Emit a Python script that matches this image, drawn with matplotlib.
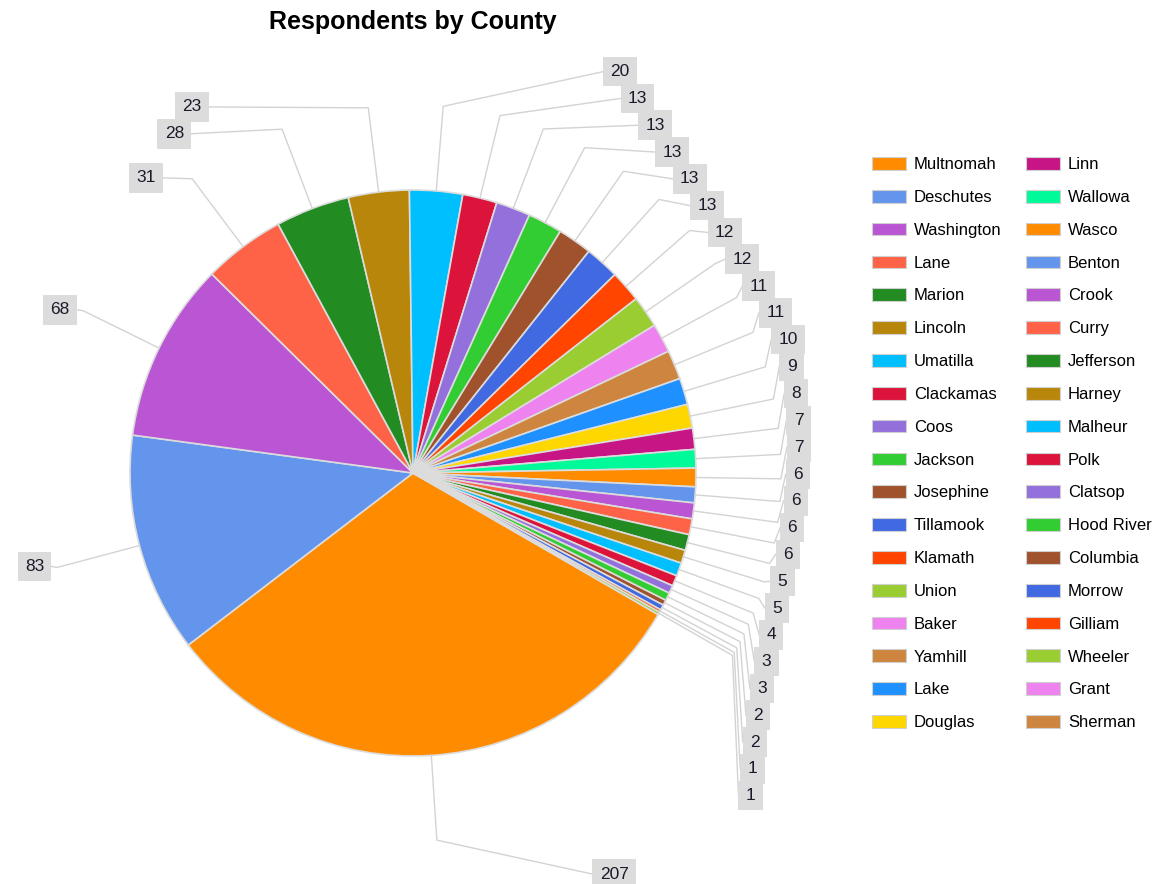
import numpy as np
import matplotlib.pyplot as plt
from matplotlib.patches import Patch

# data (Grant and Sherman only show in the legend)
counties = ["Multnomah", "Deschutes", "Washington", "Lane", "Marion", "Lincoln",
            "Umatilla", "Clackamas", "Coos", "Jackson", "Josephine", "Tillamook",
            "Klamath", "Union", "Baker", "Yamhill", "Lake", "Douglas",
            "Linn", "Wallowa", "Wasco", "Benton", "Crook", "Curry",
            "Jefferson", "Harney", "Malheur", "Polk", "Clatsop", "Hood River",
            "Columbia", "Morrow", "Gilliam", "Wheeler", "Grant", "Sherman"]
respondents = [207, 83, 68, 31, 28, 23,
               20, 13, 13, 13, 13, 13,
               12, 12, 11, 11, 10, 9,
               8, 7, 7, 6, 6, 6,
               6, 5, 5, 4, 3, 3,
               2, 2, 1, 1, 0, 0]

palette = ["#FF8C00", "#6495ED", "#BA55D3", "#FF6347", "#228B22", "#B8860B",
           "#00BFFF", "#DC143C", "#9370DB", "#32CD32", "#A0522D", "#4169E1",
           "#FF4500", "#9ACD32", "#EE82EE", "#CD853F", "#1E90FF", "#FFD700",
           "#C71585", "#00FA9A"]
colors = [palette[i % len(palette)] for i in range(len(counties))]

plt.rcParams['font.family'] = ['Liberation Sans', 'DejaVu Sans']

W, H = 1160, 884
fig = plt.figure(figsize=(W / 100, H / 100), dpi=100)
ax = fig.add_axes([0, 0, 1, 1])

# pie geometry (axes units = pixels)
cx, cy, r = 413, 411, 283
shown = [i for i, v in enumerate(respondents) if v > 0]
wedges, _ = ax.pie([respondents[i] for i in shown],
                   colors=[colors[i] for i in shown],
                   startangle=-30, counterclock=False,
                   center=(cx, cy), radius=r,
                   wedgeprops=dict(edgecolor='#DCDCDC', linewidth=1.2))

ax.set_xlim(0, W)
ax.set_ylim(0, H)
ax.set_aspect('equal')
ax.axis('off')

# leader lines + boxed value labels
mids = np.deg2rad([(w.theta1 + w.theta2) / 2 for w in wedges])
ex, ey = cx + r * np.cos(mids), cy + r * np.sin(mids)
bx, by = cx + 1.3 * r * np.cos(mids), cy + 1.3 * r * np.sin(mids)

step = 26.8       # vertical distance between stacked labels
slope = 0.65      # how far a label may drift sideways per pixel of height
fs = 12.5
pad = 0.42
pad_px = pad * fs * 100 / 72

right = [k for k in range(len(mids)) if np.cos(mids[k]) >= 0 and np.sin(mids[k]) > -0.9]
left = [k for k in range(len(mids)) if np.cos(mids[k]) < 0]
bottom = [k for k in range(len(mids)) if k not in right and k not in left]

def stack(ids, side):
    ids = sorted(ids, key=lambda k: -by[k])
    want = by[ids]
    ys = want.copy()
    for i in range(1, len(ys)):
        ys[i] = min(want[i], ys[i - 1] - step)
    ys = ys + 0.8 * np.mean(want - ys)
    xs = bx[ids] + 6 * side
    for i in range(len(xs) - 2, -1, -1):
        lim = xs[i + 1] - side * slope * (ys[i] - ys[i + 1])
        xs[i] = max(xs[i], lim) if side > 0 else min(xs[i], lim)
    return {k: (x, y, side) for k, x, y in zip(ids, xs, ys)}

pos = {}
pos.update(stack(right, 1))
pos.update(stack(left, -1))
for k in bottom:
    pos[k] = (bx[k] + 0.55 * r, by[k] - 0.12 * r, 1)

for k, (lx, ly, side) in pos.items():
    ax.plot([ex[k], bx[k], lx], [ey[k], by[k], ly], color='#D3D3D3', lw=1.0, zorder=1)
    value = respondents[shown[k]]
    ax.text(lx + side * pad_px, ly, f"{value}", ha='left' if side > 0 else 'right',
            va='center', fontsize=fs, color='#1a1a2a', zorder=3,
            bbox=dict(boxstyle=f'square,pad={pad}', facecolor='#DCDCDC', edgecolor='none'))

ax.text(cx, H - 22, "Respondents by County", ha='center', va='center',
        fontsize=18, fontweight='bold', color='black')

handles = [Patch(facecolor=c, edgecolor='#D0D0D0', linewidth=0.8) for c in colors]
fig.legend(handles, counties, ncol=2, loc='upper left',
           bbox_to_anchor=(872 / W, 1 - 157 / H), frameon=False, fontsize=12,
           handlelength=2.05, handleheight=0.8, handletextpad=0.45,
           labelspacing=1.06, columnspacing=1.5, borderpad=0, borderaxespad=0)

fig.savefig("out.png", dpi=100, facecolor='white')
